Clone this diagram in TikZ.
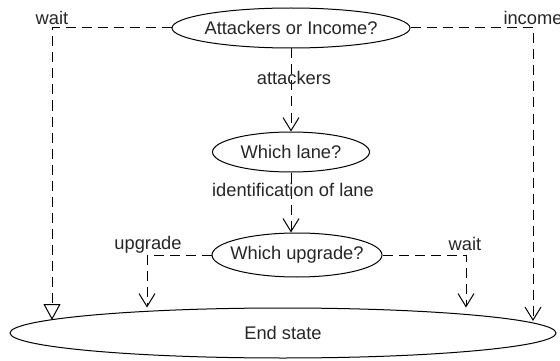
\documentclass[tikz,border=0pt]{standalone}
\usepackage{fontspec}
\setmainfont{Liberation Sans}
\usetikzlibrary{shapes.geometric,arrows.meta}
% text set in a zero-width box so that the ellipse keeps its given size
\newcommand{\fixedtext}[1]{\makebox[0pt]{#1}}
\begin{document}
\begin{tikzpicture}[x=1pt,y=-1pt,
  txt/.style={font=\fontsize{18.3}{21}\selectfont, text=black!85},
  state/.style={ellipse, draw, fill=white, inner sep=0pt, line width=1pt, txt},
  lbl/.style={inner sep=0pt, txt},
  flow/.style={draw, line width=1pt, dash pattern=on 10pt off 6pt},
  vtip/.style={-{Straight Barb[length=13pt,width=16pt]}},
  ttip/.style={-{Triangle[length=16pt,width=17pt,fill=white]}}]
  \useasboundingbox (0,0) rectangle (560,361);
  \fill[white] (0,0) rectangle (560,361);

  % decision nodes and the final state
  \node[state, minimum width=238pt, minimum height=40pt] (q1) at (291,28) {\fixedtext{Attackers or Income?}};
  \node[state, minimum width=157pt, minimum height=40pt] (q2) at (291,152) {\fixedtext{Which lane?}};
  \node[state, minimum width=170pt, minimum height=44pt] (q3) at (297,255) {\fixedtext{Which upgrade?}};
  \node[state, minimum width=546pt, minimum height=50pt] (end) at (283,333) {\fixedtext{End state}};

  % bends and tips of the side branches
  \coordinate (cw) at (52,28);
  \coordinate (tw) at (52,320);
  \coordinate (ci) at (533,28);
  \coordinate (ti) at (533,321);
  \coordinate (cu) at (147,255);
  \coordinate (cr) at (466,255);

  % main line
  \draw[flow, vtip] (q1.south) -- (q2.north);
  \draw[flow, vtip] (q2.south) -- (q2.south |- q3.north);

  % branches to the final state
  \draw[flow, ttip] (q1.west) -- (cw) -- (tw);
  \draw[flow, vtip] (q1.east) -- (ci) -- (ti);
  \draw[flow, vtip] (q3.west) -- (cu) -- (cu |- end.north);
  \draw[flow, vtip] (q3.east) -- (cr) -- (cr |- end.north);

  % labels
  \node[lbl] (lw) at (52,18) {wait};
  \node[lbl] (li) at (533,18) {income};
  \node[lbl] (la) at (294,78) {attackers};
  \node[lbl] (ll) at (293,190) {identification of lane};
  \node[lbl] (lu) at (148,245) {upgrade};
  \node[lbl] (lr) at (465,244) {wait};
\end{tikzpicture}
\end{document}
